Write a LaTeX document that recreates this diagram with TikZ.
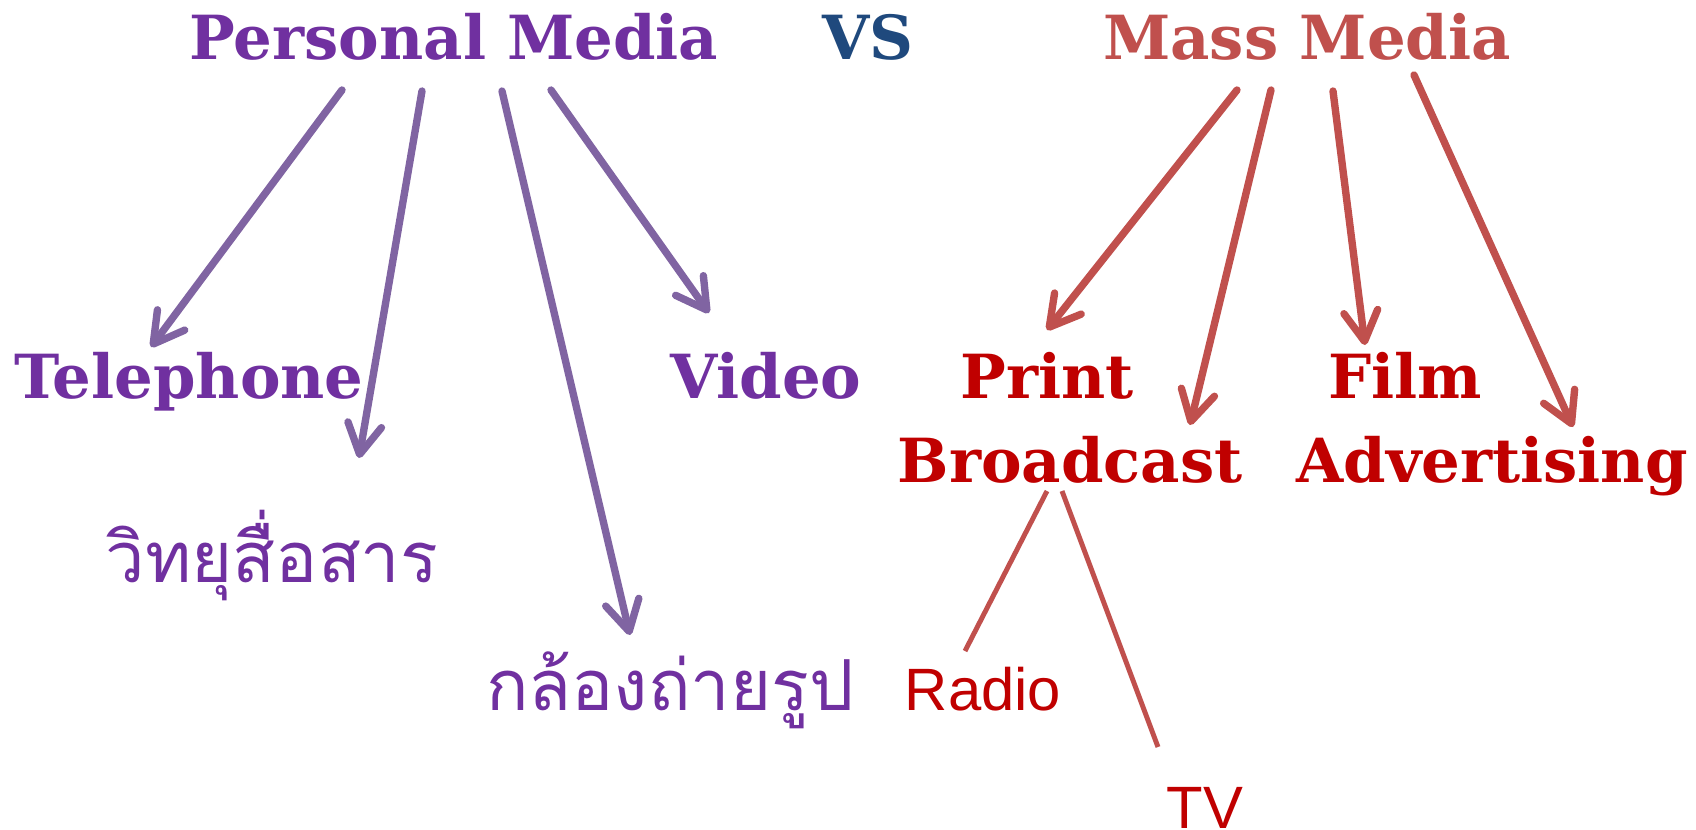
\documentclass[tikz,border=0pt]{standalone}
\usepackage{fontspec}
\setmainfont{DejaVu Serif}
\setsansfont{Liberation Sans}
\newfontfamily\thaifont[Script=Thai]{Loma}
\usetikzlibrary{arrows.meta, calc}

\definecolor{pmtext}{HTML}{7030A0}
\definecolor{pmline}{HTML}{8064A2}
\definecolor{mmtext}{HTML}{C00000}
\definecolor{mmline}{HTML}{C0504D}
\definecolor{vsblue}{HTML}{1F497D}

\begin{document}
\begin{tikzpicture}[x=0.01cm, y=-0.01cm,
  every node/.style={inner sep=0pt, anchor=base},
  bigword/.style={font=\fontsize{17.3pt}{20pt}\selectfont\bfseries},
  thaiword/.style={font=\fontsize{20pt}{24pt}\selectfont\thaifont, text=pmtext},
  plainword/.style={font=\fontsize{17pt}{20pt}\selectfont\sffamily, text=mmtext},
  pmarrow/.style={draw=pmline, line width=2.1pt, line cap=round,
    -{Straight Barb[round, length=0.3cm, width=0.34cm]}},
  mmarrow/.style={draw=mmline, line width=2.1pt, line cap=round,
    -{Straight Barb[round, length=0.3cm, width=0.34cm]}},
  mmline/.style={draw=mmline, line width=1.4pt}]
  \useasboundingbox (0,0) rectangle (1696,829);
  %
  \node[bigword, text=pmtext] (pm) at (454,59) {Personal Media};
  \node[bigword, text=vsblue] (vs) at (868,59) {VS};
  \node[bigword, text=mmline] (mm) at (1307,59) {Mass Media};
  %
  \node[bigword, text=pmtext] (tel) at (189,398) {Telephone};
  \node[bigword, text=pmtext] (vid) at (766,398) {Video};
  \node[thaiword] (wit) at (272,582) {วิทยุสื่อสาร};
  \node[thaiword] (klo) at (670,710) {กล้องถ่ายรูป};
  %
  \node[bigword, text=mmtext] (prn) at (1047,398) {Print};
  \node[bigword, text=mmtext] (film) at (1405,398) {Film};
  \node[bigword, text=mmtext] (brd) at (1070,482) {Broadcast};
  \node[bigword, text=mmtext] (adv) at (1492,482) {Advertising};
  \node[plainword] (radio) at (983,710) {Radio};
  \node[plainword] (tv) at (1205,828) {TV};
  %
  \draw[pmarrow] ($(pm.base)+(-112,31)$) -- ($(tel.base)+(-38,-51)$);
  \draw[pmarrow] ($(pm.base)+(-32,32)$) -- ($(wit.base)+(87,-124)$);
  \draw[pmarrow] ($(pm.base)+(48,32)$) -- ($(klo.base)+(-40,-75)$);
  \draw[pmarrow] ($(pm.base)+(97,31)$) -- ($(vid.base)+(-57,-85)$);
  %
  \draw[mmarrow] ($(mm.base)+(-70,31)$) -- ($(prn.base)+(0,-68)$);
  \draw[mmarrow] ($(mm.base)+(-36,31)$) -- ($(brd.base)+(120,-57)$);
  \draw[mmarrow] ($(mm.base)+(26,32)$) -- ($(film.base)+(-40,-53)$);
  \draw[mmarrow] ($(mm.base)+(107,16)$) -- ($(adv.base)+(81,-55)$);
  %
  \draw[mmline] ($(brd.base)+(-23,9)$) -- ($(radio.base)+(-18,-59)$);
  \draw[mmline] ($(brd.base)+(-8,9)$) -- ($(tv.base)+(-47,-81)$);
\end{tikzpicture}
\end{document}
